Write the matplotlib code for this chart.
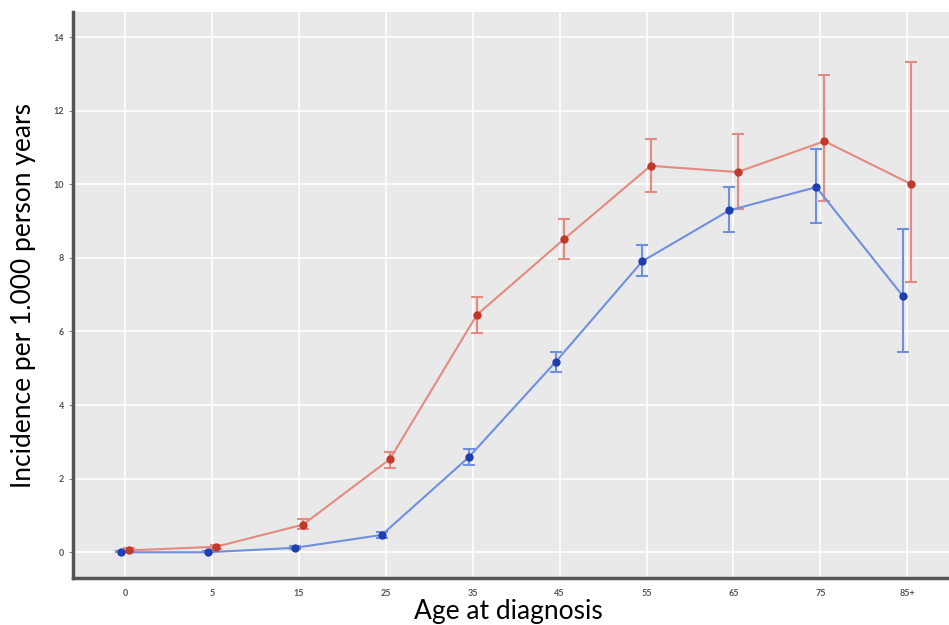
import numpy as np
import matplotlib
matplotlib.use('Agg')
import matplotlib.pyplot as plt

age_groups = ['0', '5', '15', '25', '35', '45', '55', '65', '75', '85+']

female_rate = [0.05, 0.15, 0.75, 2.53, 6.45, 8.5, 10.5, 10.33, 11.17, 10.0]
female_low = [0.0, 0.1, 0.62, 2.28, 5.95, 7.96, 9.8, 9.32, 9.54, 7.34]
female_high = [0.12, 0.2, 0.9, 2.72, 6.93, 9.05, 11.22, 11.36, 12.96, 13.32]

male_rate = [0.0, 0.0, 0.12, 0.47, 2.58, 5.17, 7.91, 9.29, 9.92, 6.95]
male_low = [0.0, 0.0, 0.08, 0.4, 2.38, 4.9, 7.5, 8.7, 8.94, 5.43]
male_high = [0.04, 0.03, 0.16, 0.55, 2.8, 5.45, 8.34, 9.92, 10.95, 8.78]

y_ticks = [0, 2, 4, 6, 8, 10, 12, 14]

plt.rcParams['font.family'] = ['Lato', 'DejaVu Sans']

fig = plt.figure(figsize=(9.49, 6.25), dpi=100)
ax = fig.add_axes([0.0769, 0.0752, 0.9231, 0.9056])
ax.set_facecolor('#e9e9e9')

x = np.arange(len(age_groups))
dodge = 0.047


def draw_series(xpos, rate, low, high, line_color, mark_color):
    rate = np.array(rate)
    yerr = [rate - np.array(low), np.array(high) - rate]
    ax.errorbar(xpos, rate, yerr=yerr, fmt='none', ecolor=line_color,
                elinewidth=1.5, capsize=4, capthick=1.5, zorder=3)
    ax.plot(xpos, rate, color=line_color, lw=1.5, zorder=3)
    ax.plot(xpos, rate, 'o', color=mark_color, ms=5, zorder=4)


draw_series(x + dodge, female_rate, female_low, female_high, '#e58a80', '#c0392b')
draw_series(x - dodge, male_rate, male_low, male_high, '#6f8fe0', '#1f3fb0')

ax.set_xlim(-0.6, 9.48)
ax.set_ylim(-0.7, 14.68)
ax.set_xticks(x)
ax.set_xticklabels(age_groups)
ax.set_yticks(y_ticks)
ax.grid(True, color='white', lw=1.2)
ax.set_axisbelow(True)

for side in ['top', 'right']:
    ax.spines[side].set_visible(False)
for side in ['left', 'bottom']:
    ax.spines[side].set_color('#555555')
    ax.spines[side].set_linewidth(2.5)

ax.tick_params(axis='both', labelsize=6.5, labelcolor='#555555', colors='#888888',
               length=3, width=0.8)
ax.tick_params(axis='x', length=0, pad=8)
for lab in ax.get_xticklabels() + ax.get_yticklabels():
    lab.set_fontweight('bold')

ax.set_ylabel('Incidence per 1.000 person years', fontsize=19, color='black')
ax.yaxis.set_label_coords(-0.042, 0.5)
ax.set_xlabel('Age at diagnosis', fontsize=19, color='black')
ax.xaxis.set_label_coords(0.497, -0.037)

fig.savefig('out.png', dpi=100)
